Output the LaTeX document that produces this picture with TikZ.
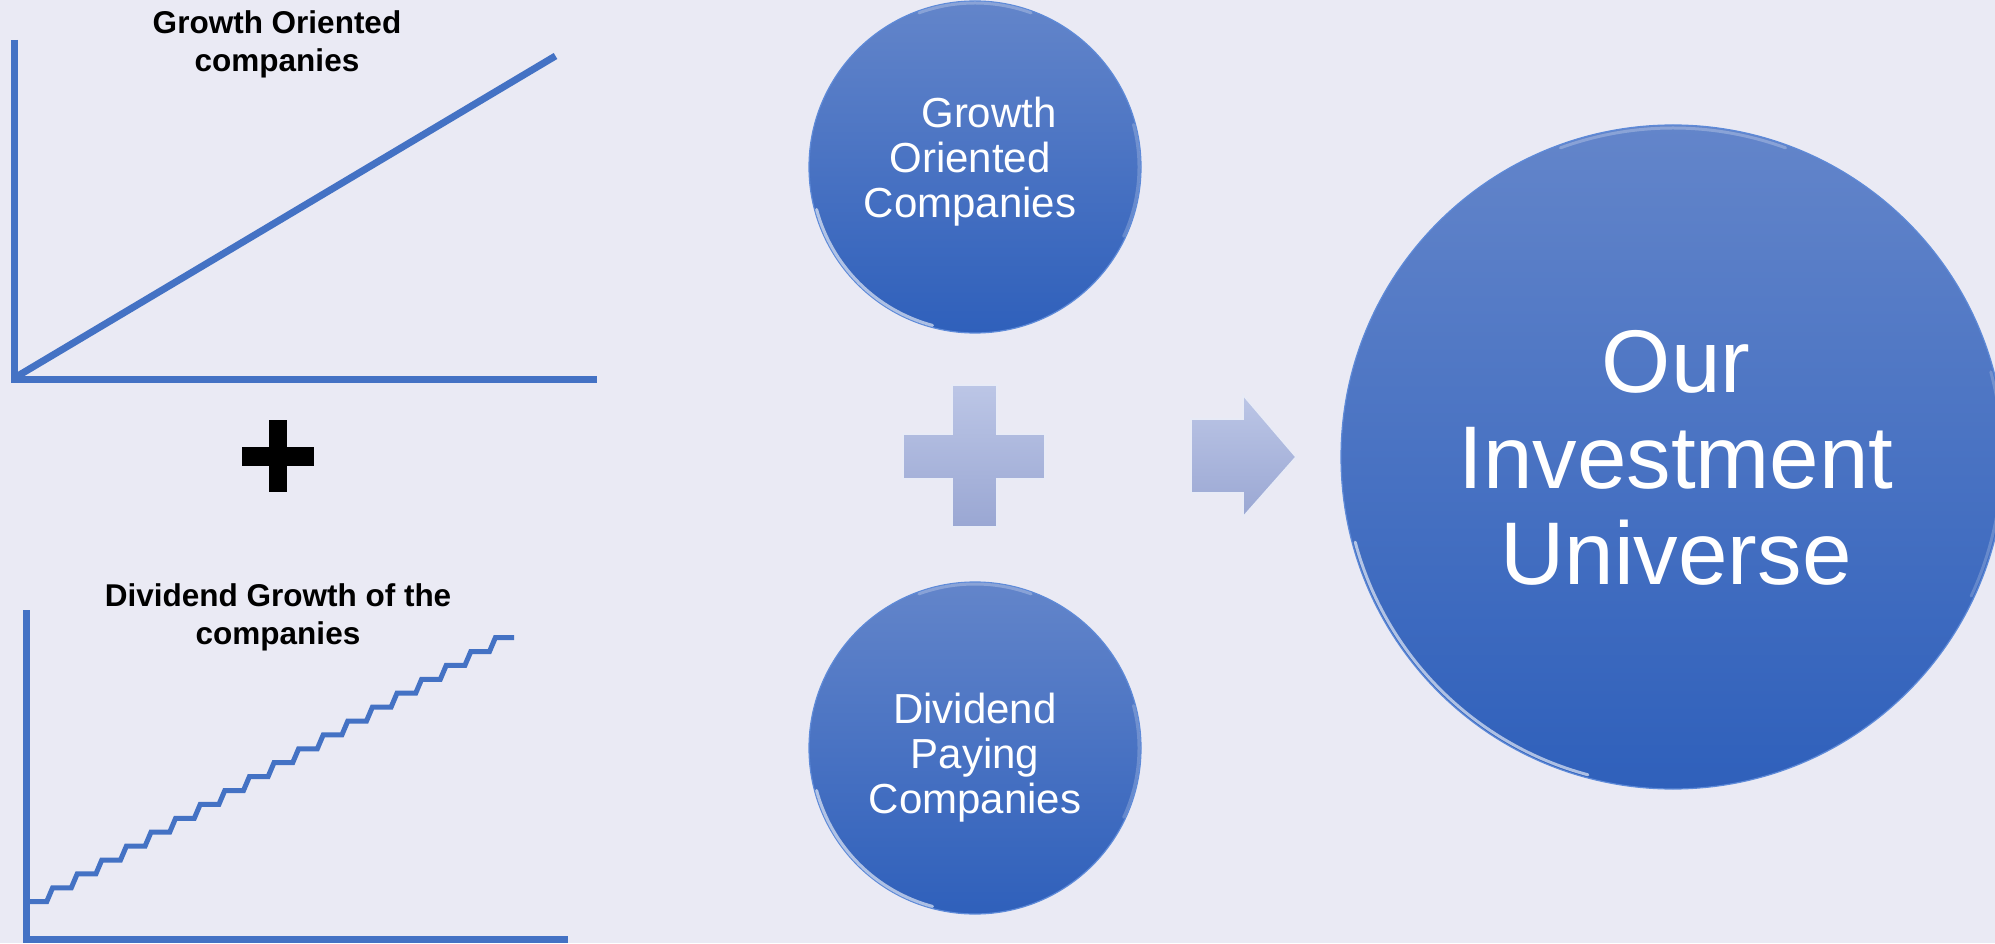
\documentclass[tikz,border=0pt]{standalone}
\usepackage{fontspec}
\setmainfont{Liberation Sans}
\usetikzlibrary{arrows}
\usetikzlibrary{shapes,positioning,calc}

\definecolor{bgcol}{HTML}{EAEAF4}
\definecolor{lineblue}{HTML}{4472C4}
\definecolor{balltop}{HTML}{6385CA}
\definecolor{ballmid}{HTML}{4672C8}
\definecolor{ballbot}{HTML}{2F60BB}
\definecolor{ballrim}{HTML}{5E8AD8}
\definecolor{bevtop}{HTML}{BCC6E6}
\definecolor{bevbot}{HTML}{9AA7D3}

\tikzset{
	axisline/.style={draw=lineblue, line width=3.5pt},
	stairline/.style={draw=lineblue, line width=2.5pt},
	charttitle/.style={font=\bfseries\fontsize{15.75}{19}\selectfont, align=center, anchor=north, inner sep=0pt},
	bubble/.style={circle, inner sep=0pt, outer sep=0pt, top color=balltop, middle color=ballmid, bottom color=ballbot, draw=ballrim, line width=0.6pt},
	gloss/.style={draw=white, opacity=0.6, line width=1.5pt, line cap=round},
	bubbletext/.style={text=white, align=center, anchor=north, inner sep=0pt, font=\fontsize{21}{22.5}\selectfont},
	bigtext/.style={text=white, align=center, anchor=north, inner sep=0pt, font=\fontsize{44.5}{48}\selectfont},
	bevel/.style={top color=bevtop, bottom color=bevbot, draw=white!65!bevtop, line width=0.8pt}
}

\begin{document}
\begin{tikzpicture}[>=latex, x=0.5pt, y=0.5pt]
			\useasboundingbox (0,0) rectangle (1995,943);
			\fill[bgcol] (0,0) rectangle (1995,943);
			\clip (0,0) rectangle (1995,943);
			
			% growth chart
			\draw[axisline] (14.5,903) -- (14.5,560);
			\draw[axisline] (11,563.5) -- (597,563.5);
			\draw[axisline] (16,566) -- (555.5,887);
			\node[charttitle] (growthtitle) at (277,932.5) {Growth Oriented\\companies};
			
			\fill[black] (242,477) rectangle (314,496);
			\fill[black] (269,451) rectangle (287,523);
			
			% dividend chart
			\node[charttitle] (divtitle) at (278,359.5) {Dividend Growth of the\\companies};
			\draw[axisline] (26.5,333) -- (26.5,0);
			\draw[axisline] (23,3.5) -- (568,3.5);
			\draw[stairline] (30,41.3) -- (46.7,41.3)
				\foreach \i in {0,...,18}{ -- ++(5.9,13.9) -- ++(18.7,0) };
			
			% circles
			\node[bubble, minimum size=166pt] (growth) at (975,776) {};
			\node[bubble, minimum size=166pt] (dividend) at (975,195) {};
			\node[bubble, minimum size=332pt] (universe) at (1673,486) {};
			\foreach \c/\r in {growth/164, dividend/164, universe/329}{
				\draw[gloss] ([shift={(195:\r)}]\c.center) arc[start angle=195, end angle=255, radius=\r];
				\draw[gloss, opacity=0.25] ([shift={(70:\r)}]\c.center) arc[start angle=70, end angle=110, radius=\r];
				\draw[gloss, opacity=0.2] ([shift={(-25:\r)}]\c.center) arc[start angle=-25, end angle=15, radius=\r];
			}
			\node[bubbletext] (growthtxt) at (970,846) {\hspace*{19pt}Growth\\Oriented\\Companies};
			\node[bubbletext] (dividendtxt) at (975,250) {Dividend\\Paying\\Companies};
			\node[bigtext] (universetxt) at (1676,613) {Our\\Investment\\Universe};
			
			% plus and arrow
			\draw[bevel] (952,558) -- (997,558) -- (997,509) -- (1045,509) -- (1045,464) -- (997,464)
				-- (997,416) -- (952,416) -- (952,464) -- (903,464) -- (903,509) -- (952,509) -- cycle;
			\draw[bevel] (1191,450) -- (1243,450) -- (1243,426) -- (1296,486) -- (1243,548) -- (1243,524)
				-- (1191,524) -- cycle;
			
		\end{tikzpicture}
\end{document}
